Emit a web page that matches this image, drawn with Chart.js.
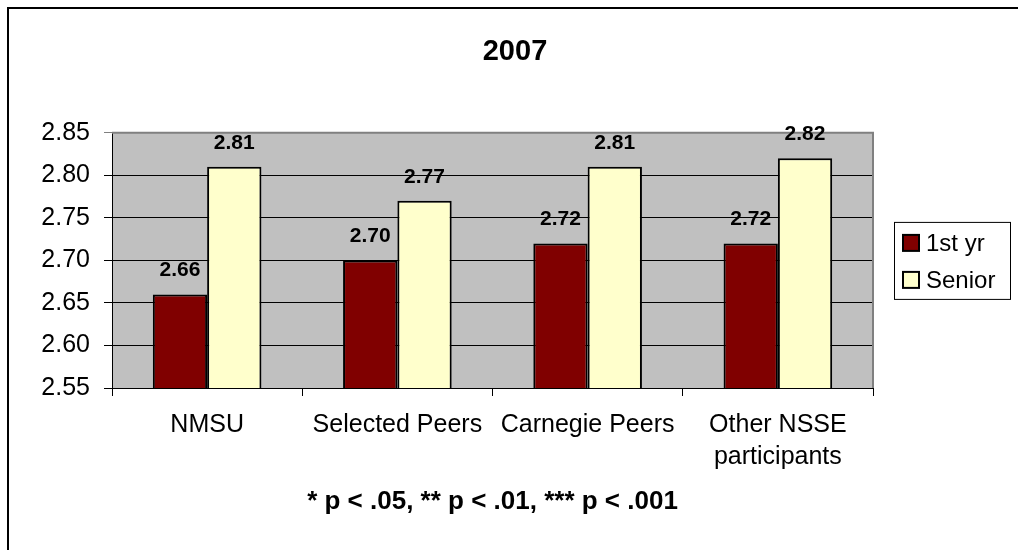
<!DOCTYPE html>
<html>
<head>
<meta charset="utf-8">
<script src="https://cdn.jsdelivr.net/npm/chart.js@4/dist/chart.umd.min.js"></script>
<style>
  html, body { margin: 0; padding: 0; background: #fff; overflow: hidden; }
  #frame { position: absolute; left: 7px; top: 7px; width: 1100px; height: 600px; border: 2px solid #000; }
  #wrap { position: absolute; left: 0; top: 0; width: 1018px; height: 550px; }
</style>
</head>
<body>
<div id="frame"></div>
<div id="wrap"><canvas id="chart" width="1018" height="550"></canvas></div>
<script>
const categories = ['NMSU', 'Selected Peers', 'Carnegie Peers', ['Other NSSE', 'participants']];
const firstYear = [2.66, 2.70, 2.72, 2.72];
const senior = [2.81, 2.77, 2.81, 2.82];
const yTicks = [2.55, 2.60, 2.65, 2.70, 2.75, 2.80, 2.85];
const chartTitle = '2007';
const footnote = '* p < .05, ** p < .01, *** p < .001';

const FONT = '"Liberation Sans", Arial, sans-serif';

// grey plot area plus its top/right border
const plotArea = {
    id: 'plotArea',
    beforeDraw(chart) {
        const a = chart.chartArea, c = chart.ctx;
        c.save();
        c.fillStyle = '#C0C0C0';
        c.fillRect(a.left, a.top, a.right - a.left, a.bottom - a.top);
        c.restore();
    },
    beforeDatasetsDraw(chart) {
        const a = chart.chartArea, c = chart.ctx;
        c.save();
        c.strokeStyle = '#808080';
        c.lineWidth = 2;
        c.beginPath();
        c.moveTo(a.left, a.top);
        c.lineTo(a.right, a.top);
        c.lineTo(a.right, a.bottom);
        c.stroke();
        c.restore();
    }
};

// value labels above each bar
const barLabels = {
    id: 'barLabels',
    afterDatasetsDraw(chart) {
        const c = chart.ctx;
        c.save();
        c.font = 'bold 21px ' + FONT;
        c.fillStyle = '#000';
        c.textAlign = 'center';
        c.textBaseline = 'alphabetic';
        chart.data.datasets.forEach((ds, i) => {
            chart.getDatasetMeta(i).data.forEach((bar, j) => {
                c.fillText(ds.data[j].toFixed(2), bar.x, bar.y - 18);
            });
        });
        c.restore();
    }
};

// boxed legend to the right of the plot
const boxLegend = {
    id: 'boxLegend',
    afterDraw(chart) {
        const a = chart.chartArea, c = chart.ctx;
        const w = 116, h = 77;
        const x = a.right + 21;
        const y = (a.top + a.bottom) / 2 - h / 2;
        c.save();
        c.fillStyle = '#fff';
        c.fillRect(x, y, w, h);
        c.strokeStyle = '#000';
        c.lineWidth = 1;
        c.strokeRect(x + 0.5, y + 0.5, w, h);
        c.font = '24px ' + FONT;
        c.textBaseline = 'middle';
        chart.data.datasets.forEach((ds, i) => {
            const cy = y + 21 + i * 37;
            c.fillStyle = ds.backgroundColor;
            c.fillRect(x + 9, cy - 8, 16, 16);
            c.lineWidth = 2;
            c.strokeRect(x + 9, cy - 8, 16, 16);
            c.fillStyle = '#000';
            c.fillText(ds.label, x + 32, cy + 1);
        });
        c.restore();
    }
};

const ctx = document.getElementById('chart').getContext('2d');
const myChart = new Chart(ctx, {
    type: 'bar',
    data: {
        labels: categories,
        datasets: [{
            label: '1st yr',
            data: firstYear,
            backgroundColor: '#800000',
            borderColor: '#000',
            borderWidth: 2,
            borderSkipped: false
        }, {
            label: 'Senior',
            data: senior,
            backgroundColor: '#FFFFCC',
            borderColor: '#000',
            borderWidth: 2,
            borderSkipped: false
        }]
    },
    options: {
        responsive: false,
        animation: false,
        layout: { padding: { left: 12, right: 0, top: 0, bottom: 0 } },
        datasets: { bar: { categoryPercentage: 0.571, barPercentage: 1.0 } },
        plugins: {
            legend: { display: false },
            tooltip: { enabled: false },
            title: {
                display: true,
                text: chartTitle,
                color: '#000',
                font: { family: FONT, size: 29, weight: 'bold' },
                padding: { top: 35, bottom: 63 }
            }
        },
        scales: {
            x: {
                grid: { display: true, drawOnChartArea: false, offset: true, tickLength: 8, color: '#000' },
                border: { display: true, color: '#000', width: 1 },
                ticks: {
                    color: '#000',
                    font: { family: FONT, size: 25, lineHeight: 1.28 },
                    padding: 13,
                    maxRotation: 0,
                    autoSkip: false
                },
                title: {
                    display: true,
                    text: footnote,
                    color: '#000',
                    font: { family: FONT, size: 26, weight: 'bold' },
                    padding: { top: 0, bottom: 33 }
                },
                afterFit(s) { s.height = 162; }
            },
            y: {
                min: yTicks[0],
                max: yTicks[yTicks.length - 1],
                afterBuildTicks(s) { s.ticks = yTicks.map(v => ({ value: v })); },
                grid: {
                    tickLength: 8,
                    color: c => (c.tick && Math.abs(c.tick.value - 2.85) < 1e-6) ? '#808080' : '#000'
                },
                border: { display: true, color: '#000', width: 1 },
                ticks: {
                    color: '#000',
                    font: { family: FONT, size: 25 },
                    padding: 14,
                    callback: v => Number(v).toFixed(2)
                },
                afterFit(s) { s.width = 100; }
            },
            yRight: {
                type: 'linear',
                position: 'right',
                grid: { display: false },
                border: { display: false },
                ticks: { display: false },
                afterFit(s) { s.width = 145; }
            }
        }
    },
    plugins: [plotArea, barLabels, boxLegend]
});
</script>
</body>
</html>
